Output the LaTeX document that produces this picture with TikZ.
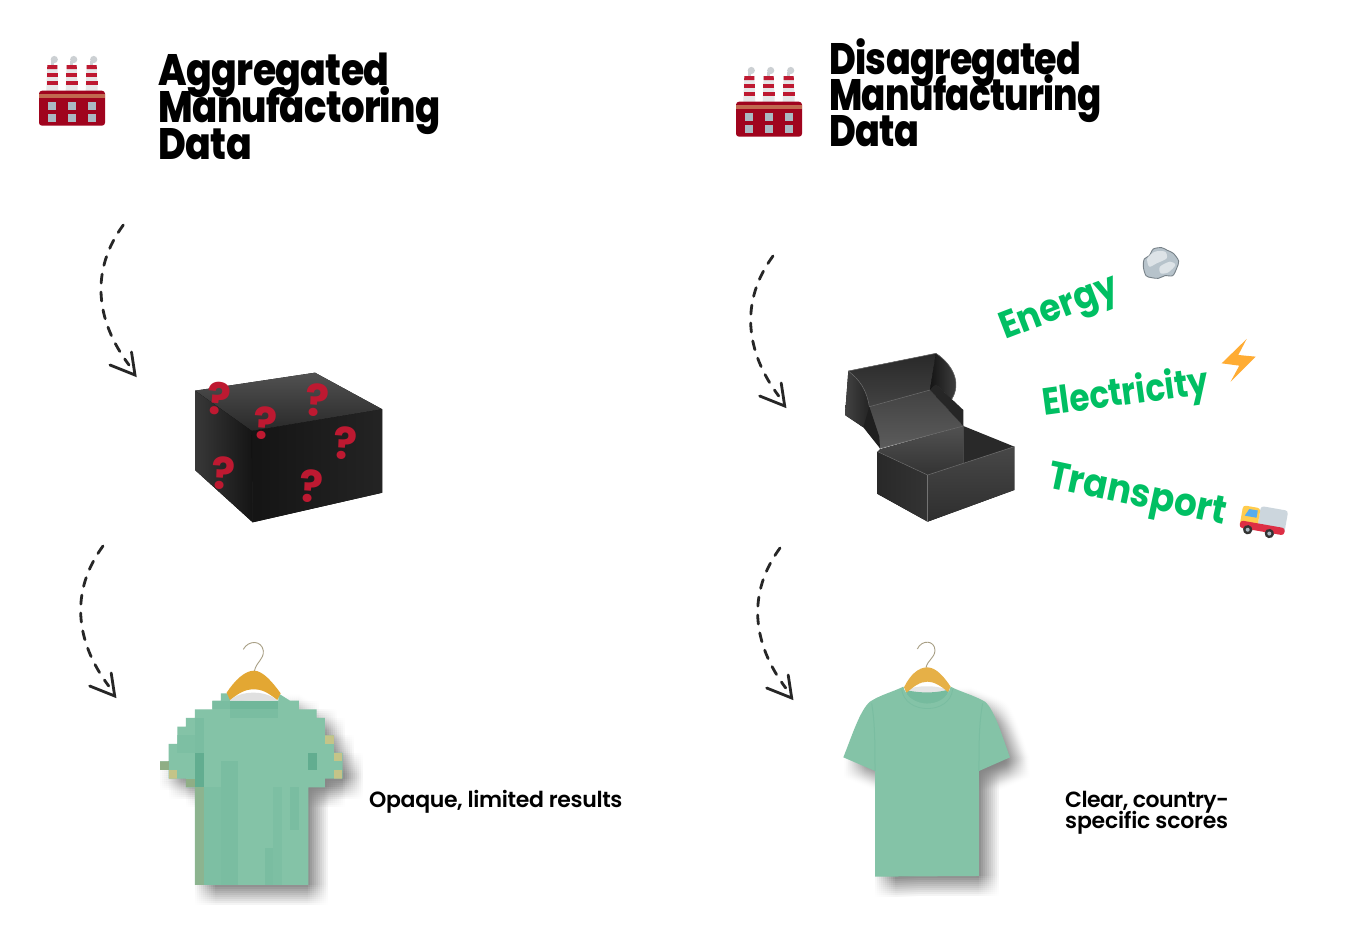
\documentclass[tikz,border=0pt]{standalone}
\usepackage{fontspec}
\setmainfont{Poppins}
\newfontfamily\ttlfont[FakeStretch=0.86,LetterSpace=-1.5]{Poppins ExtraBold}
\newfontfamily\ttlfontm[FakeStretch=0.842,LetterSpace=-1.5]{Poppins ExtraBold}
\newfontfamily\ttlfontb[FakeStretch=0.83,LetterSpace=-1.5]{Poppins ExtraBold}
\newfontfamily\ttlfontn[FakeStretch=0.81,LetterSpace=-1.5]{Poppins ExtraBold}
\newfontfamily\capfont{Poppins SemiBold}
\newfontfamily\grna[FakeStretch=0.91]{Poppins}
\newfontfamily\grnb[FakeStretch=0.86]{Poppins}
\newfontfamily\grnc[FakeStretch=0.915]{Poppins}
\usetikzlibrary{calc}
\definecolor{factred}{HTML}{A0041E}
\definecolor{chimred}{HTML}{BE1931}
\definecolor{smokegrey}{HTML}{CCD0D3}
\definecolor{chimwhite}{HTML}{E6E7E8}
\definecolor{bandbrown}{HTML}{C1694F}
\definecolor{winblue}{HTML}{AAB8C2}
\definecolor{mint}{HTML}{84C3A7}
\definecolor{mintdark}{HTML}{7ABDA1}
\definecolor{mintdeep}{HTML}{62AD90}
\definecolor{khakia}{HTML}{C4C488}
\definecolor{khakib}{HTML}{8FAE85}
\definecolor{hangerorange}{HTML}{E3A733}
\definecolor{hookgrey}{HTML}{A89F85}
\definecolor{signgreen}{HTML}{00BF63}
\definecolor{boltorange}{HTML}{FFAC33}
\definecolor{truckyellow}{HTML}{FFCC4D}
\definecolor{truckgrey}{HTML}{CCD6DD}
\definecolor{truckblue}{HTML}{55ACEE}
\definecolor{truckred}{HTML}{DD2E44}
\tikzset{
  ttlbase/.style={anchor=base west,inner sep=0pt,text=black},
  grn/.style={anchor=base west,inner sep=0pt,text=signgreen},
  capt/.style={anchor=base west,inner sep=0pt,text=black},
  qmark/.style={inner sep=0pt,font=\bfseries\fontsize{44}{44}\selectfont,text=chimred},
  dashcurve/.style={line width=2.8pt,draw=black!85,dash pattern=on 9pt off 9pt,line cap=round},
  headline/.style={line width=2.8pt,draw=black!85,line cap=round},
  boxedge/.style={draw=black!55,line width=.5pt}
}
\newcommand{\capsize}[1]{\capfont\addfontfeature{LetterSpace=#1}\fontsize{22}{22}\selectfont}
\newcommand{\factory}[2]{%
\begin{scope}[shift={(#1,#2)}]
  \foreach \cx in {52.3,71.7,91.7}{
    \fill[smokegrey] (\cx+2,59.5) circle (3.6);
    \fill[smokegrey] (\cx-1.5,61) rectangle (\cx+1.2,66);
    \fill[chimwhite] (\cx-5,65) -- (\cx+5,65) -- (\cx+6,91) -- (\cx-6,91) -- cycle;
    \fill[chimred] (\cx-5,65) -- (\cx+5,65) -- (\cx+5.1,69) -- (\cx-5.1,69) -- cycle;
    \fill[chimred] (\cx-5.4,73) rectangle (\cx+5.4,77);
    \fill[chimred] (\cx-5.8,81) rectangle (\cx+5.8,85);
  }
  \fill[factred,rounded corners=3pt] (39,90.7) rectangle (105,125.7);
  \fill[bandbrown] (39,94) rectangle (105,98);
  \foreach \wx in {48.3,68.3,87.7}{
    \fill[winblue] (\wx,102.3) rectangle +(8,7.7);
    \fill[winblue] (\wx,114) rectangle +(8,7.7);
  }
\end{scope}}
\newcommand{\dasharrow}[3]{%
  \coordinate (#1s) at (#2,#3);
  \coordinate (#1e) at ($(#2,#3)+(11.7,150)$);
  \coordinate (#1a) at ($(#2,#3)+(-33,45)$);
  \coordinate (#1b) at ($(#2,#3)+(-28,95)$);
  \draw[dashcurve] (#1s) .. controls (#1a) and (#1b) .. ($(#1e)+(-6,-10)$);
  \draw[headline] ($(#1e)+(-25,-10)$) -- (#1e) -- ($(#1e)+(-3.5,-23)$);
}
% soft shadow: a box blur, made of faint shifted copies of the shape
\newcommand{\softshadow}[1]{%
  \foreach \dx in {0,6,...,60}{
    \foreach \dy in {0,6,...,60}{
      \fill[black,fill opacity=.0035,shift={(\dx,\dy)}] #1;
    }
  }}
\begin{document}
\begin{tikzpicture}[x=1pt,y=-1pt]
\useasboundingbox (0,0) rectangle (1353,945);
\fill[white] (0,0) rectangle (1353,945);

% titles
\node[ttlbase,font=\ttlfont\fontsize{44}{44}\selectfont] (t1a) at (158.5,85) {Aggregated};
\node[ttlbase,font=\ttlfontm\fontsize{44}{44}\selectfont] (t1b) at (158.5,122) {Manufactoring};
\node[ttlbase,font=\ttlfont\fontsize{44}{44}\selectfont] (t1c) at (158.5,159) {Data};
\node[ttlbase,font=\ttlfontb\fontsize{44}{44}\selectfont] (t2a) at (829,74) {Disagregated};
\node[ttlbase,font=\ttlfontn\fontsize{44}{44}\selectfont] (t2b) at (829,110) {Manufacturing};
\node[ttlbase,font=\ttlfontb\fontsize{44}{44}\selectfont] (t2c) at (829,146) {Data};

\factory{0}{0}
\factory{697}{11}

% arrows
\dasharrow{aa}{123.3}{225}
\dasharrow{ab}{103}{546}
\dasharrow{ac}{773}{256}
\dasharrow{ad}{780}{548}

% closed box
\fill[top color=black!68,bottom color=black!84] (195,390.7) -- (315,372.7) -- (382.3,409.3) -- (251.7,431) -- cycle;
\fill[left color=black!78,right color=black!92] (195,390.7) -- (251.7,431) -- (252.7,522.3) -- (195,470) -- cycle;
\fill[left color=black!92,right color=black!86] (251.7,431) -- (382.3,409.3) -- (382.3,492.7) -- (252.7,522.3) -- cycle;
\node[qmark,rotate=-6] (q1) at (219.3,399) {?};
\node[qmark,rotate=-4] (q2) at (265.7,423.3) {?};
\node[qmark,rotate=-4] (q3) at (317.7,400.7) {?};
\node[qmark,rotate=-4] (q4) at (345.7,443.3) {?};
\node[qmark,rotate=-4] (q5) at (223.3,473.3) {?};
\node[qmark,rotate=-4] (q6) at (311.7,486.7) {?};

% open box
\begin{scope}[shift={(830,340)},x=.3333pt,y=-.3333pt]
  \fill[top color=black!84,bottom color=black!74] (55,93) -- (318,40) -- (300,150) -- (118,200) .. controls (110,150) and (90,120) .. (55,93);
  \fill[left color=black!74,right color=black!86] (55,93) .. controls (90,120) and (110,150) .. (118,200) .. controls (118,225) and (110,245) .. (100,262) -- (45,225) -- cycle;
  \fill[left color=black!92,right color=black!72] (318,40) .. controls (370,75) and (395,130) .. (365,178) -- (318,133) -- (300,150) -- cycle;
  \fill[top color=black!74,bottom color=black!64] (118,200) -- (300,150) -- (400,258) -- (150,325) -- cycle;
  \fill[black!88] (100,262) -- (118,200) -- (148,290) -- (150,325) -- cycle;
  \fill[black!85] (300,150) -- (318,133) -- (400,210) -- (400,258) -- cycle;
  \fill[top color=black!68,bottom color=black!80] (150,328) -- (400,258) -- (400,375) -- (293,405) -- (143,335) -- cycle;
  \fill[black!84] (400,258) -- (553,320) -- (400,375) -- cycle;
  \fill[left color=black!84,right color=black!80] (143,335) -- (293,405) -- (293,545) -- (143,462) -- cycle;
  \fill[top color=black!72,bottom color=black!82] (293,405) -- (553,320) -- (553,450) -- (293,545) -- cycle;
  \draw[boxedge] (143,335) -- (293,405) -- (553,320);
  \draw[boxedge] (293,405) -- (293,545);
  \draw[boxedge] (118,200) -- (300,150);
  \draw[boxedge] (150,325) -- (400,258);
  \draw[boxedge] (55,93) .. controls (90,120) and (110,150) .. (118,200);
  \draw[boxedge] (55,93) -- (318,40) .. controls (370,75) and (395,130) .. (365,178);
\end{scope}

% green labels
\node[grn,rotate=21,font=\grna\bfseries\fontsize{38}{38}\selectfont] (en) at (1005,340) {Energy};
\node[grn,rotate=7.7,font=\grnb\bfseries\fontsize{38}{38}\selectfont] (el) at (1044,416) {Electricity};
\node[grn,rotate=-12,font=\grnc\bfseries\fontsize{39}{39}\selectfont] (tr) at (1046,487) {Transport};

% rock, bolt, truck
\begin{scope}[shift={(990,235)},x=.3333pt,y=-.3333pt]
  \filldraw[fill=winblue!85!white,draw=black!30!winblue,line width=.9pt] plot[smooth cycle] coordinates {(463,72)(478,62)(490,42)(515,38)(532,46)(550,55)(566,78)(560,100)(548,122)(525,122)(505,130)(485,128)(468,122)(460,95)};
  \fill[white!60!winblue] plot[smooth cycle] coordinates {(472,70)(495,50)(525,50)(530,70)(500,85)(478,95)};
  \fill[white!60!winblue] plot[smooth cycle] coordinates {(510,95)(540,80)(556,90)(535,112)(512,115)};
  \fill[boltorange] (770,312) -- (695,385) -- (748,392) -- (722,440) -- (797,365) -- (745,360) -- cycle;
  \begin{scope}[shift={(820,860)},rotate=-10]
    \fill[truckgrey,rounded corners=3pt] (-15,-45) rectangle (68,25);
    \fill[truckyellow,rounded corners=3pt] (-68,-38) -- (-15,-38) -- (-15,25) -- (-68,25) -- cycle;
    \fill[truckblue] (-48,-30) -- (-22,-30) -- (-22,-8) -- (-58,-8) -- cycle;
    \fill[truckred,rounded corners=3pt] (-68,8) rectangle (68,30);
    \foreach \wx in {-42,24}{
      \fill[black!80] (\wx,32) circle (14);
      \fill[winblue] (\wx,32) circle (6);
    }
  \end{scope}
\end{scope}

% pixelated shirt
\begin{scope}[shift={(150,630)},x=.3333pt,y=-.3333pt]
  \def\pixpath{(135,765) -- (135,472) -- (108,472) -- (108,446) -- (56,446) -- (56,420) -- (30,420) -- (30,394) -- (56,394) -- (56,342) -- (82,342) -- (82,290) -- (108,290) -- (108,264) -- (135,264) -- (135,238) -- (187,238) -- (187,212) -- (213,212) -- (213,190) -- (240,190) -- (240,212) -- (385,212) -- (385,190) -- (420,212) -- (447,212) -- (447,238) -- (500,238) -- (500,264) -- (525,264) -- (525,316) -- (552,316) -- (552,368) -- (578,368) -- (578,446) -- (525,446) -- (525,472) -- (475,472) -- (475,765) -- cycle}
  \softshadow{\pixpath}
  \fill[mint] \pixpath;
  \begin{scope}
    \clip \pixpath;
    \fill[mintdark] (135,264) rectangle (161,446);
    \fill[mintdeep] (135,368) rectangle (161,472);
    \fill[mintdeep] (475,368) rectangle (500,420);
    \fill[mintdark] (213,394) rectangle (265,765);
    \fill[mintdark!70!mint] (161,472) rectangle (213,765);
    \fill[mintdark] (345,655) rectangle (370,765);
    \fill[mintdark!70!mint] (370,472) rectangle (396,765);
    \fill[mintdark] (420,472) rectangle (447,600);
    \fill[mintdark] (240,212) rectangle (385,264);
    \fill[mintdark!60!mintdeep] (240,212) rectangle (385,238);
    \fill[mintdark] (187,212) rectangle (240,238);
    \fill[mintdark!70!mint] (82,316) rectangle (135,368);
    \fill[khakib!70!mint] (135,472) rectangle (161,765);
    \fill[khakib] (30,394) rectangle (56,420);
    \fill[khakia] (56,420) rectangle (82,446);
    \fill[khakib] (108,446) rectangle (135,472);
    \fill[khakia] (525,290) rectangle (552,342);
    \fill[khakia] (552,368) rectangle (578,394);
    \fill[khakia] (552,420) rectangle (578,446);
  \end{scope}
  \draw[hookgrey,line width=.9pt] (280,58) .. controls (295,30) and (335,30) .. (340,62) .. controls (342,90) and (318,95) .. (313,125);
  \fill[black!12] (240,212) .. controls (270,180) and (350,180) .. (382,212) -- cycle;
  \fill[hangerorange] (230,188) .. controls (255,150) and (285,122) .. (312,122) .. controls (340,122) and (370,160) .. (392,190) -- (382,210) .. controls (350,185) and (335,178) .. (310,178) .. controls (285,178) and (265,190) .. (240,210) -- cycle;
\end{scope}

% clear shirt
\begin{scope}[shift={(830,630)},x=.3333pt,y=-.3333pt]
  \def\shirtpath{(220,170) .. controls (190,185) and (150,195) .. (120,215) .. controls (90,240) and (65,320) .. (40,382) -- (135,423) -- (135,740) -- (447,738) -- (447,423) -- (540,382) .. controls (520,330) and (495,240) .. (465,215) .. controls (430,195) and (390,185) .. (362,170) .. controls (345,240) and (235,235) .. (220,170) -- cycle}
  \softshadow{\shirtpath}
  \fill[black!10] (228,180) .. controls (260,165) and (320,165) .. (355,180) -- (345,200) -- (235,200) -- cycle;
  \fill[mintdark!85!mintdeep] (226,180) .. controls (270,190) and (320,190) .. (358,178) .. controls (345,240) and (235,240) .. (226,180) -- cycle;
  \fill[mint] \shirtpath;
  \fill[mintdark!85!mintdeep] (232,188) .. controls (270,198) and (320,198) .. (350,186) .. controls (335,225) and (250,225) .. (232,188) -- cycle;
  \draw[mintdark,line width=.8pt] (215,178) .. controls (225,255) and (360,255) .. (368,178);
  \draw[mintdark,line width=1pt] (135,423) .. controls (135,340) and (135,280) .. (125,220);
  \draw[mintdark,line width=1pt] (447,423) .. controls (447,340) and (447,280) .. (458,220);
  \draw[hookgrey,line width=.9pt] (262,57) .. controls (275,28) and (315,30) .. (315,62) .. controls (313,85) and (293,90) .. (288,113);
  \fill[hangerorange!90!white] (222,172) .. controls (240,135) and (265,112) .. (292,112) .. controls (320,112) and (345,145) .. (362,170) -- (354,186) .. controls (330,165) and (310,155) .. (292,155) .. controls (270,155) and (250,170) .. (230,188) -- cycle;
\end{scope}

% captions
\node[capt,font=\capsize{-1.6}] (c1) at (369,807) {Opaque, limited results};
\node[capt,font=\capsize{-2.6}] (c2) at (1065,807) {Clear, country-};
\node[capt,font=\capsize{-1.0}] (c3) at (1065,828) {specific scores};
\end{tikzpicture}
\end{document}
